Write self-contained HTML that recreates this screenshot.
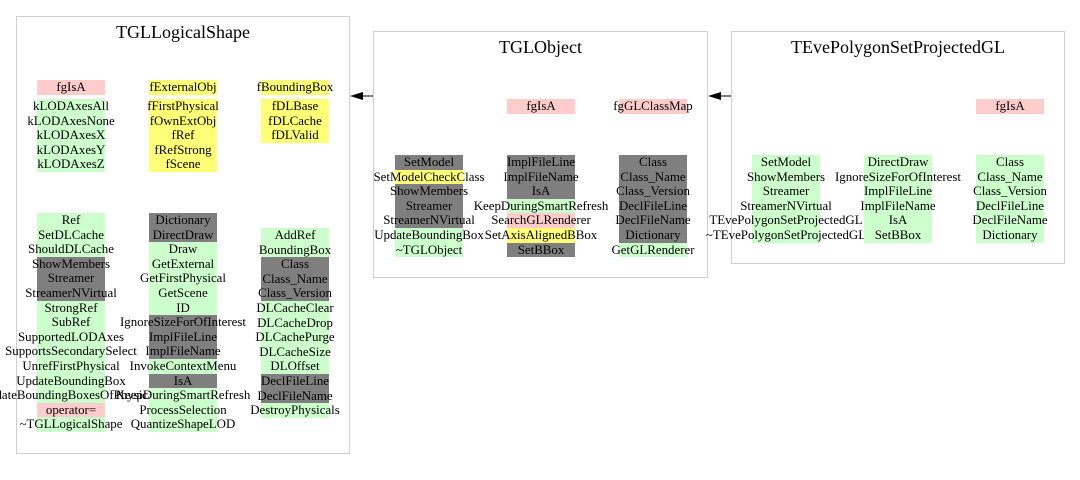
<!DOCTYPE html>
<html><head><meta charset="utf-8">
<style>
body{margin:0;width:1080px;height:480px;background:#fff;position:relative;overflow:hidden;font-family:"Liberation Serif",serif;}
.box{position:absolute;border:1px solid #d0d0d0;box-sizing:border-box;background:#fff}
.t{position:absolute;font-size:18px;text-align:center;white-space:nowrap;color:#000}
.col{position:absolute;width:68px;display:flex;flex-direction:column}
.i{width:68px;height:14.6px;line-height:14.6px;font-size:12.9px;display:flex;justify-content:center;white-space:nowrap;color:#000;overflow:visible}
.g{background:#ccffcc}.d{background:#7f7f7f}.p{background:#ffcccc}.y{background:#ffff77}.n{background:transparent}
</style></head><body>

<div class="box" style="left:16px;top:16px;width:334px;height:438px"></div>
<div class="t" style="left:16px;width:334px;top:22px">TGLLogicalShape</div>

<div class="box" style="left:373px;top:31px;width:335px;height:247px"></div>
<div class="t" style="left:373px;width:335px;top:37px">TGLObject</div>

<div class="box" style="left:731px;top:31px;width:334px;height:233px"></div>
<div class="t" style="left:731px;width:334px;top:37px">TEvePolygonSetProjectedGL</div>

<svg style="position:absolute;left:0;top:0" width="1080" height="480">
<line x1="362" y1="96" x2="373" y2="96" stroke="#000" stroke-width="1"/>
<polygon points="350,96 363,92 363,100" fill="#000"/>
<line x1="720" y1="96" x2="731" y2="96" stroke="#000" stroke-width="1"/>
<polygon points="708,96 721,92 721,100" fill="#000"/>
</svg>

<!-- TGLLogicalShape -->
<div class="col" style="left:37px;top:80px"><div class="i p">fgIsA</div></div>
<div class="col" style="left:37px;top:99px">
<div class="i g">kLODAxesAll</div><div class="i g">kLODAxesNone</div><div class="i g">kLODAxesX</div><div class="i g">kLODAxesY</div><div class="i g">kLODAxesZ</div></div>
<div class="col" style="left:149px;top:80px"><div class="i y">fExternalObj</div></div>
<div class="col" style="left:149px;top:99px">
<div class="i y">fFirstPhysical</div><div class="i y">fOwnExtObj</div><div class="i y">fRef</div><div class="i y">fRefStrong</div><div class="i y">fScene</div></div>
<div class="col" style="left:261px;top:80px"><div class="i y">fBoundingBox</div></div>
<div class="col" style="left:261px;top:99px">
<div class="i y">fDLBase</div><div class="i y">fDLCache</div><div class="i y">fDLValid</div></div>

<div class="col" style="left:37px;top:213px">
<div class="i g">Ref</div><div class="i g">SetDLCache</div><div class="i g">ShouldDLCache</div><div class="i d">ShowMembers</div><div class="i d">Streamer</div><div class="i d">StreamerNVirtual</div><div class="i g">StrongRef</div><div class="i g">SubRef</div><div class="i g">SupportedLODAxes</div><div class="i g">SupportsSecondarySelect</div><div class="i g">UnrefFirstPhysical</div><div class="i g">UpdateBoundingBox</div><div class="i g">UpdateBoundingBoxesOfPhysicals</div><div class="i p">operator=</div><div class="i g">~TGLLogicalShape</div></div>
<div class="col" style="left:149px;top:213px">
<div class="i d">Dictionary</div><div class="i d">DirectDraw</div><div class="i g">Draw</div><div class="i g">GetExternal</div><div class="i g">GetFirstPhysical</div><div class="i g">GetScene</div><div class="i g">ID</div><div class="i d">IgnoreSizeForOfInterest</div><div class="i d">ImplFileLine</div><div class="i d">ImplFileName</div><div class="i g">InvokeContextMenu</div><div class="i d">IsA</div><div class="i g">KeepDuringSmartRefresh</div><div class="i g">ProcessSelection</div><div class="i g">QuantizeShapeLOD</div></div>
<div class="col" style="left:261px;top:228px">
<div class="i g">AddRef</div><div class="i g">BoundingBox</div><div class="i d">Class</div><div class="i d">Class_Name</div><div class="i d">Class_Version</div><div class="i g">DLCacheClear</div><div class="i g">DLCacheDrop</div><div class="i g">DLCachePurge</div><div class="i g">DLCacheSize</div><div class="i g">DLOffset</div><div class="i d">DeclFileLine</div><div class="i d">DeclFileName</div><div class="i g">DestroyPhysicals</div></div>

<!-- TGLObject -->
<div class="col" style="left:507px;top:99px"><div class="i p">fgIsA</div></div>
<div class="col" style="left:619px;top:99px"><div class="i p">fgGLClassMap</div></div>
<div class="col" style="left:395px;top:155px">
<div class="i d">SetModel</div><div class="i y">SetModelCheckClass</div><div class="i d">ShowMembers</div><div class="i d">Streamer</div><div class="i d">StreamerNVirtual</div><div class="i g">UpdateBoundingBox</div><div class="i g">~TGLObject</div></div>
<div class="col" style="left:507px;top:155px">
<div class="i d">ImplFileLine</div><div class="i d">ImplFileName</div><div class="i d">IsA</div><div class="i g">KeepDuringSmartRefresh</div><div class="i p">SearchGLRenderer</div><div class="i y">SetAxisAlignedBBox</div><div class="i d">SetBBox</div></div>
<div class="col" style="left:619px;top:155px">
<div class="i d">Class</div><div class="i d">Class_Name</div><div class="i d">Class_Version</div><div class="i d">DeclFileLine</div><div class="i d">DeclFileName</div><div class="i d">Dictionary</div><div class="i g">GetGLRenderer</div></div>

<!-- TEvePolygonSetProjectedGL -->
<div class="col" style="left:976px;top:99px"><div class="i p">fgIsA</div></div>
<div class="col" style="left:752px;top:155px">
<div class="i g">SetModel</div><div class="i g">ShowMembers</div><div class="i g">Streamer</div><div class="i g">StreamerNVirtual</div><div class="i g">TEvePolygonSetProjectedGL</div><div class="i g">~TEvePolygonSetProjectedGL</div></div>
<div class="col" style="left:864px;top:155px">
<div class="i g">DirectDraw</div><div class="i g">IgnoreSizeForOfInterest</div><div class="i g">ImplFileLine</div><div class="i g">ImplFileName</div><div class="i g">IsA</div><div class="i g">SetBBox</div></div>
<div class="col" style="left:976px;top:155px">
<div class="i g">Class</div><div class="i g">Class_Name</div><div class="i g">Class_Version</div><div class="i g">DeclFileLine</div><div class="i g">DeclFileName</div><div class="i g">Dictionary</div></div>

</body></html>
